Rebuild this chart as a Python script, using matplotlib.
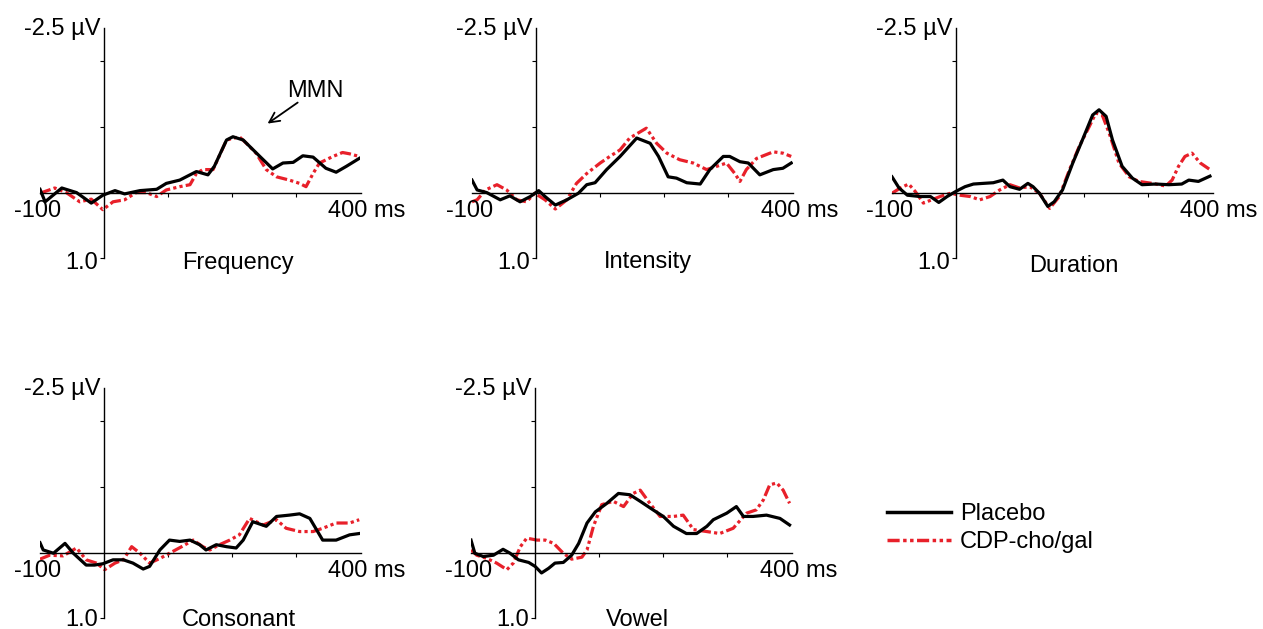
import matplotlib
matplotlib.use("Agg")
import matplotlib.pyplot as plt
from matplotlib.lines import Line2D

plt.rcParams['font.family'] = ['Liberation Sans', 'DejaVu Sans']
FS = 17

# ---- data (ms, microvolt; negative is up) ----
# Frequency
freq_t_plc = [-100, -92, -66, -43, -20, -2, 17, 32, 56, 82, 97, 118, 144, 162, 172, 191, 201, 217, 243,
              263, 279, 295, 310, 326, 346, 362, 378, 398]
freq_v_plc = [-0.05, 0.14, -0.07, 0.0, 0.16, 0.04, -0.03, 0.02, -0.03, -0.05, -0.14, -0.19, -0.32, -0.27,
              -0.40, -0.80, -0.85, -0.80, -0.55, -0.36, -0.45, -0.46, -0.56, -0.54, -0.37, -0.31, -0.40, -0.52]
freq_t_cdp = [-100, -77, -59, -38, -20, -2, 14, 32, 50, 66, 82, 97, 118, 134, 144, 154, 170, 191, 211, 222,
              237, 253, 269, 289, 305, 315, 326, 336, 357, 372, 383, 398]
freq_v_cdp = [0.01, -0.07, 0.0, 0.14, 0.10, 0.26, 0.14, 0.11, 0.0, 0.0, 0.06, -0.04, -0.09, -0.12, -0.29,
              -0.35, -0.35, -0.80, -0.85, -0.75, -0.60, -0.35, -0.24, -0.19, -0.14, -0.09, -0.29, -0.45,
              -0.55, -0.61, -0.59, -0.55]

# Intensity
inten_t_plc = [-100, -92, -77, -56, -41, -25, -9, 4, 14, 30, 48, 66, 79, 92, 110, 131, 157, 178, 191, 206,
               219, 235, 256, 271, 292, 302, 318, 331, 349, 370, 385, 398]
inten_v_plc = [-0.19, -0.04, 0.0, 0.11, 0.05, 0.14, 0.06, -0.03, 0.06, 0.19, 0.11, 0.01, -0.12, -0.15,
               -0.35, -0.55, -0.83, -0.75, -0.55, -0.24, -0.22, -0.15, -0.13, -0.35, -0.55, -0.55, -0.47,
               -0.45, -0.27, -0.35, -0.37, -0.45]
inten_t_cdp = [-100, -92, -79, -61, -46, -30, -15, -2, 14, 30, 48, 63, 79, 100, 115, 131, 146, 172, 188,
               204, 224, 245, 266, 282, 297, 310, 318, 328, 344, 370, 385, 398]
inten_v_cdp = [0.14, 0.11, -0.04, -0.12, -0.04, 0.11, 0.14, 0.01, 0.11, 0.25, 0.11, -0.14, -0.29, -0.45,
               -0.55, -0.65, -0.83, -0.98, -0.75, -0.60, -0.50, -0.45, -0.35, -0.40, -0.45, -0.29, -0.17,
               -0.35, -0.52, -0.62, -0.60, -0.55]

# Duration
dur_t_plc = [-100, -89, -76, -56, -40, -27, -14, 0, 14, 27, 42, 58, 73, 84, 99, 112, 120, 130, 143, 153,
             166, 182, 197, 213, 223, 234, 244, 259, 275, 290, 311, 332, 352, 363, 378, 396]
dur_v_plc = [-0.24, -0.07, 0.04, 0.06, 0.06, 0.15, 0.06, -0.02, -0.09, -0.13, -0.14, -0.15, -0.19, -0.09,
             -0.05, -0.14, -0.09, 0.01, 0.21, 0.14, -0.04, -0.45, -0.80, -1.18, -1.26, -1.16, -0.80, -0.40,
             -0.22, -0.12, -0.13, -0.12, -0.13, -0.19, -0.17, -0.25]
dur_t_cdp = [-100, -87, -74, -64, -51, -38, -25, -9, 6, 22, 37, 53, 68, 84, 99, 115, 130, 146, 161, 177,
             192, 208, 218, 228, 239, 254, 270, 285, 306, 327, 337, 347, 357, 368, 381, 396]
dur_v_cdp = [0.01, -0.07, -0.13, -0.02, 0.16, 0.11, 0.06, 0.01, 0.04, 0.06, 0.11, 0.06, -0.04, -0.12,
             -0.07, -0.09, 0.01, 0.24, 0.06, -0.35, -0.70, -1.01, -1.21, -1.18, -0.90, -0.45, -0.24, -0.17,
             -0.14, -0.10, -0.19, -0.40, -0.55, -0.60, -0.45, -0.35]

# Consonant
cons_t_plc = [-100, -95, -79, -61, -48, -28, -15, -2, 14, 30, 45, 61, 71, 87, 102, 118, 134, 149, 159,
              175, 191, 206, 217, 232, 253, 269, 289, 305, 321, 341, 362, 383, 398]
cons_v_plc = [-0.15, -0.04, 0.01, -0.14, 0.01, 0.19, 0.19, 0.17, 0.11, 0.11, 0.16, 0.25, 0.21, -0.04,
              -0.19, -0.17, -0.19, -0.12, -0.04, -0.12, -0.09, -0.07, -0.19, -0.47, -0.40, -0.55, -0.57,
              -0.59, -0.52, -0.19, -0.19, -0.27, -0.29]
cons_t_cdp = [-100, -85, -64, -43, -28, -12, 1, 17, 30, 43, 56, 71, 87, 102, 121, 139, 154, 165, 180,
              196, 211, 227, 248, 269, 284, 305, 326, 341, 362, 383, 398]
cons_v_cdp = [0.10, 0.04, 0.05, -0.07, 0.11, 0.16, 0.26, 0.16, 0.11, -0.09, 0.01, 0.16, 0.09, 0.01,
              -0.09, -0.19, -0.09, -0.04, -0.12, -0.19, -0.27, -0.52, -0.42, -0.50, -0.37, -0.32, -0.32,
              -0.37, -0.45, -0.45, -0.50]

# Vowel
vow_t_plc = [-100, -94, -81, -65, -50, -39, -26, -10, 0, 10, 21, 31, 44, 57, 68, 81, 94, 112, 130, 148,
             164, 184, 200, 216, 236, 252, 268, 278, 299, 314, 325, 340, 361, 382, 397]
vow_v_plc = [-0.19, 0.01, 0.06, 0.04, -0.05, 0.01, 0.11, 0.15, 0.21, 0.31, 0.24, 0.16, 0.15, 0.04, -0.14,
             -0.45, -0.62, -0.75, -0.90, -0.88, -0.78, -0.65, -0.55, -0.40, -0.29, -0.29, -0.40, -0.50,
             -0.60, -0.70, -0.55, -0.55, -0.57, -0.52, -0.42]
vow_t_cdp = [-100, -91, -75, -60, -44, -34, -23, -13, 3, 16, 29, 44, 57, 73, 81, 91, 104, 122, 138, 153,
             164, 179, 195, 216, 231, 247, 268, 288, 309, 330, 345, 356, 366, 377, 387, 397]
vow_v_cdp = [-0.04, 0.04, 0.09, 0.16, 0.26, 0.16, -0.09, -0.22, -0.19, -0.19, -0.14, 0.01, 0.10, 0.07,
             -0.04, -0.40, -0.73, -0.78, -0.70, -0.90, -0.95, -0.75, -0.55, -0.55, -0.57, -0.35, -0.32,
             -0.29, -0.37, -0.60, -0.65, -0.80, -1.03, -1.06, -0.95, -0.75]

titles = ["Frequency", "Intensity", "Duration", "Consonant", "Vowel"]
series = [
    (freq_t_plc, freq_v_plc, freq_t_cdp, freq_v_cdp),
    (inten_t_plc, inten_v_plc, inten_t_cdp, inten_v_cdp),
    (dur_t_plc, dur_v_plc, dur_t_cdp, dur_v_cdp),
    (cons_t_plc, cons_v_plc, cons_t_cdp, cons_v_cdp),
    (vow_t_plc, vow_v_plc, vow_t_cdp, vow_v_cdp),
]
legend_labels = ["Placebo", "CDP-cho/gal"]

# ---- layout in pixels: x of -100 ms, x of 400 ms, y top, y bottom ----
W, H = 1263, 629
boxes = [(40, 360.5, 28.3, 258.3),
         (472, 792.5, 28.3, 258.3),
         (892, 1212.5, 28.3, 258.3),
         (40, 360.5, 388.3, 618.3),
         (471, 791.5, 388.3, 618.3)]
# title (x centre px, baseline px)
title_pos = [(237.5, 269), (648, 268), (1074, 272), (239, 626), (637, 626)]

RED = "#e8202a"
dash_dot_dot = (0, (3.5, 1.0, 1.0, 1.0, 1.0, 1.0))

fig = plt.figure(figsize=(W / 100, H / 100), dpi=100)

for i, (x0, x1, y0, y1) in enumerate(boxes):
    ax = fig.add_axes([x0 / W, 1 - y1 / H, (x1 - x0) / W, (y1 - y0) / H])
    ax.patch.set_visible(False)
    ax.set_xlim(-100, 400)
    ax.set_ylim(1.0, -2.5)
    for s in ("top", "right"):
        ax.spines[s].set_visible(False)
    ax.spines["left"].set_position(("data", 0))
    ax.spines["bottom"].set_position(("data", 0))
    for s in ("left", "bottom"):
        ax.spines[s].set_linewidth(1.0)
    ax.set_xticks([100, 200, 300])
    ax.set_yticks([-2, -1, 1.0])
    ax.tick_params(direction="out", length=3, width=0.8, labelleft=False, labelbottom=False)

    tp, vp, tc, vc = series[i]
    ax.plot(tc, vc, color=RED, lw=2.3, linestyle=dash_dot_dot, solid_joinstyle="round")
    ax.plot(tp, vp, color="black", lw=2.3, solid_joinstyle="round")

    kw = dict(textcoords="offset pixels", fontsize=FS, va="baseline", annotation_clip=False)
    ax.annotate("-2.5 µV", xy=(0, -2.5), xytext=(-4, -7), ha="right", **kw)
    # keep the bottom row's "1.0" inside the canvas
    dy_low = -11 if i < 3 else -8
    ax.annotate("1.0", xy=(0, 1.0), xytext=(-6, dy_low), ha="right", **kw)
    ax.annotate("-100", xy=(-100, 0), xytext=(-2, -24), ha="center", **kw)
    ax.annotate("400 ms", xy=(400, 0), xytext=(-32, -24), ha="left", **kw)

    tx, ty = title_pos[i]
    fig.text(tx / W, 1 - ty / H, titles[i], fontsize=FS, ha="center", va="baseline")

    if i == 0:
        ax.annotate("MMN", xy=(255, -1.05), xytext=(329, -1.46), fontsize=FS, ha="center",
                    va="baseline", annotation_clip=False)
        ax.annotate("", xy=(255, -1.05), xytext=(302, -1.37),
                    arrowprops=dict(arrowstyle="->", lw=1.3, color="black",
                                    mutation_scale=18, shrinkA=0, shrinkB=0))

handles = [Line2D([], [], color="black", lw=2.5),
           Line2D([], [], color=RED, lw=2.5, linestyle=dash_dot_dot)]
fig.legend(handles, legend_labels, loc="upper left", bbox_to_anchor=(887 / W, 1 - 503 / H),
           frameon=False, fontsize=FS, handlelength=2.7, handletextpad=0.4,
           labelspacing=0.27, borderpad=0, borderaxespad=0)

fig.savefig("out.png", dpi=100)
